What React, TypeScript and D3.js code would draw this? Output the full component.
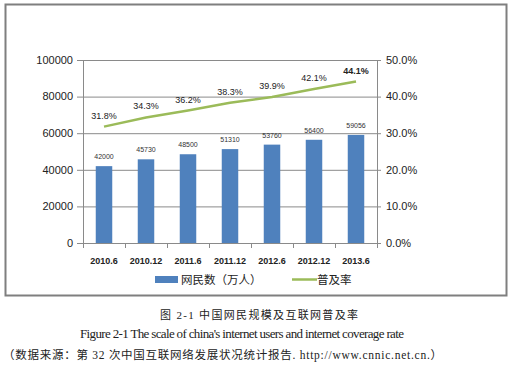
import * as d3 from "d3";

const categories = ["2010.6", "2010.12", "2011.6", "2011.12", "2012.6", "2012.12", "2013.6"];
const users = [42000, 45730, 48500, 51310, 53760, 56400, 59056];
const rates = [31.8, 34.3, 36.2, 38.3, 39.9, 42.1, 44.1];
const leftTicks = [0, 20000, 40000, 60000, 80000, 100000];
const rightTicks = [0, 10, 20, 30, 40, 50];

const BAR = "#4f81bd";
const LINE = "#9bbb59";
const GRID = "#8a8a8a";
const SANS = "'Liberation Sans', Arial, sans-serif";
const CJK = "'Noto Sans CJK SC', sans-serif";
const SERIF = "'Liberation Serif', 'Noto Sans CJK SC', serif";

export default function App() {
  const W = 523;
  const H = 373;
  const plot = { left: 83, right: 377, top: 60, bottom: 243 };

  const x = d3.scaleBand<string>().domain(categories).range([plot.left, plot.right]);
  const yL = d3.scaleLinear().domain([0, 100000]).range([plot.bottom, plot.top]);
  const yR = d3.scaleLinear().domain([0, 50]).range([plot.bottom, plot.top]);
  const barW = 16.5;
  const cx = (c: string) => x(c)! + x.bandwidth() / 2;

  const line = d3
    .line<number>()
    .x((_, i) => cx(categories[i]))
    .y((d) => yR(d));

  return (
    <div style={{ position: "absolute", left: 0, top: 0 }}>
      <svg width={W} height={H} style={{ display: "block", background: "#fff" }}>
        {/* frame */}
        <rect x={5.5} y={4.5} width={501} height={291} fill="none" stroke="#7f7f7f" strokeWidth={2} />

        {/* gridlines + left axis */}
        {leftTicks.map((t) => (
          <g key={t}>
            <line x1={plot.left - 6} x2={plot.right} y1={yL(t) + 0.5} y2={yL(t) + 0.5} stroke={GRID} />
            <text x={73} y={yL(t)} dy="0.35em" textAnchor="end" fontSize={11} fontFamily={SANS} fill="#222">
              {t}
            </text>
          </g>
        ))}
        {rightTicks.map((t) => (
          <g key={t}>
            <line x1={plot.right} x2={plot.right + 4} y1={yR(t) + 0.5} y2={yR(t) + 0.5} stroke={GRID} />
            <text x={386} y={yR(t)} dy="0.35em" fontSize={11} fontFamily={SANS} fill="#222">
              {t.toFixed(1)}%
            </text>
          </g>
        ))}
        <line x1={plot.left + 0.5} x2={plot.left + 0.5} y1={plot.top} y2={plot.bottom} stroke={GRID} />
        <line x1={plot.right + 0.5} x2={plot.right + 0.5} y1={plot.top} y2={plot.bottom} stroke={GRID} />

        {/* x ticks between categories */}
        {[...categories.map((c) => x(c)!), plot.right].map((v, i) => (
          <line key={i} x1={v + 0.5} x2={v + 0.5} y1={plot.bottom} y2={plot.bottom + 5} stroke={GRID} />
        ))}

        {/* bars */}
        {users.map((v, i) => (
          <rect
            key={i}
            x={cx(categories[i]) - barW / 2}
            y={yL(v)}
            width={barW}
            height={plot.bottom - yL(v)}
            fill={BAR}
          />
        ))}
        {users.map((v, i) => (
          <text
            key={i}
            x={cx(categories[i])}
            y={yL(v) - 7}
            textAnchor="middle"
            fontSize={7}
            fontFamily={SANS}
            fill="#333"
          >
            {v}
          </text>
        ))}

        {/* rate line */}
        <path d={line(rates)!} fill="none" stroke={LINE} strokeWidth={2.5} />
        {rates.map((v, i) => (
          <text
            key={i}
            x={cx(categories[i])}
            y={yR(v) - 8}
            textAnchor="middle"
            fontSize={9}
            fontFamily={SANS}
            fontWeight={i === rates.length - 1 ? "bold" : "normal"}
            fill="#222"
          >
            {v.toFixed(1)}%
          </text>
        ))}

        {/* x labels */}
        {categories.map((c) => (
          <text
            key={c}
            x={cx(c)}
            y={plot.bottom + 21}
            textAnchor="middle"
            fontSize={9}
            fontWeight="bold"
            fontFamily={SANS}
            fill="#222"
          >
            {c}
          </text>
        ))}

        {/* legend */}
        <rect x={155} y={276} width={23} height={7} fill={BAR} />
        <text x={181} y={279.5} dy="0.35em" fontSize={11.5} fontFamily={CJK} fill="#222">
          网民数（万人）
        </text>
        <line x1={292} x2={317} y1={279.5} y2={279.5} stroke={LINE} strokeWidth={2.5} />
        <text x={317} y={279.5} dy="0.35em" fontSize={11.5} fontFamily={CJK} fill="#222">
          普及率
        </text>

        {/* captions */}
        <text x={160} y={319} fontSize={11} fontFamily={SERIF} fill="#222" textLength={198} lengthAdjust="spacing">
          图 2-1 中国网民规模及互联网普及率
        </text>
        <text x={80} y={338} fontSize={13} fontFamily={SERIF} fill="#222" textLength={324} lengthAdjust="spacing">
          Figure 2-1 The scale of china's internet users and internet coverage rate
        </text>
        <text x={3} y={359} fontSize={11.5} fontFamily={SERIF} fill="#222" textLength={439} lengthAdjust="spacing">
          （数据来源：第 32 次中国互联网络发展状况统计报告. http://www.cnnic.net.cn.）
        </text>
      </svg>
    </div>
  );
}
